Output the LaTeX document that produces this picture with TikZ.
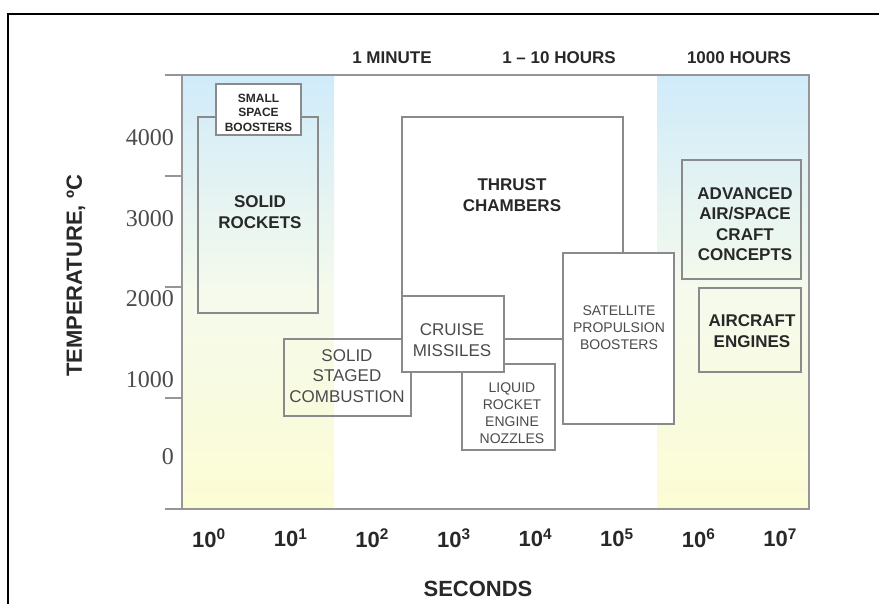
\documentclass[tikz,border=0pt]{standalone}
\usepackage{fontspec}
\setmainfont{Liberation Serif}
\setsansfont{Liberation Sans}
\usepackage{tikz}
\tikzset{>=latex}
\definecolor{boxgray}{RGB}{138,138,138}
\definecolor{axisgray}{RGB}{150,150,150}
\definecolor{inkdark}{RGB}{40,40,40}
\definecolor{inkmid}{RGB}{75,75,75}
\definecolor{skyblue}{RGB}{208,235,250}
\definecolor{paleyellow}{RGB}{252,252,212}
\tikzset{
  region/.style={draw=boxgray, line width=1.3pt},
  timeband/.style={top color=skyblue, bottom color=paleyellow, middle color=skyblue!30!paleyellow!60!white},
  boldlbl/.style={font=\fontsize{17}{20.5}\selectfont\sffamily\bfseries, text=inkdark, align=center, inner sep=0pt},
  thinlbl/.style={font=\fontsize{17}{20.5}\selectfont\sffamily, text=inkmid, align=center, inner sep=0pt},
  smalllbl/.style={font=\fontsize{14}{17}\selectfont\sffamily, text=inkmid, align=center, inner sep=0pt},
  tinylbl/.style={font=\fontsize{12}{14.5}\selectfont\sffamily\bfseries, text=inkdark, align=center, inner sep=0pt},
  ticklbl/.style={font=\fontsize{22}{24}\selectfont\sffamily\bfseries, text=inkdark, inner sep=0pt},
  templbl/.style={font=\fontsize{24}{26}\selectfont, text=inkmid, anchor=east, inner sep=0pt}
}

\begin{document}
\begin{tikzpicture}[x=1pt, y=-1pt]
\useasboundingbox (0,0) rectangle (879,604);

% outer frame
\draw[black, line width=2pt] (8,604) -- (8,14) -- (879,14);

% shaded time bands
\shade[timeband] (182,75) rectangle (334,509);
\shade[timeband] (657,75) rectangle (809,509);

% axes
\draw[axisgray, line width=1.8pt] (165,75) -- (809,75) -- (809,509) -- (165,509);
\draw[axisgray, line width=1.8pt] (182,75) -- (182,509);
\foreach \y in {176, 287, 398}{
    \draw[axisgray, line width=1.5pt] (165,\y) -- (182,\y);
}

% temperature labels
\foreach \t/\y in {4000/138, 3000/219, 2000/299, 1000/380, 0/457}{
    \node[templbl] (temp\t) at (174,\y) {\t};
}

% time labels
\foreach \i in {0,...,7}{
    \node[ticklbl] (sec\i) at (209+81.6*\i, 538) {10\textsuperscript{\i}};
}

\node[ticklbl] (seconds) at (478,589) {SECONDS};
\node[ticklbl, rotate=90] (temperature) at (76,276) {TEMPERATURE, ºC};

\node[boldlbl] (minute) at (392,58) {1 MINUTE};
\node[boldlbl] (hours) at (559,58) {1 -- 10 HOURS};
\node[boldlbl] (khours) at (739,58) {1000 HOURS};

% regions, back to front
\draw[region] (402,117) rectangle (623,339);
\node[boldlbl] (thrust) at (512,195) {THRUST\\CHAMBERS};

\draw[region] (198,117) rectangle (318,313);
\node[boldlbl] (solid) at (260,212) {SOLID\\ROCKETS};

\draw[region, fill=white] (216,84) rectangle (301,135);
\node[tinylbl] (small) at (258.5,112.5) {SMALL\\SPACE\\BOOSTERS};

\draw[region] (284,339) rectangle (411,416);
\node[thinlbl] (staged) at (347,376) {SOLID\\STAGED\\COMBUSTION};

\draw[region, fill=white] (462,364) rectangle (555,450);
\node[smalllbl] (nozzles) at (512,413) {LIQUID\\ROCKET\\ENGINE\\NOZZLES};

\draw[region, fill=white] (402,296) rectangle (504,372);
\node[thinlbl] (cruise) at (452,340) {CRUISE\\MISSILES};

\draw[region, fill=white] (563,253) rectangle (674,424);
\node[smalllbl] (satellite) at (619,328) {SATELLITE\\PROPULSION\\BOOSTERS};

% long life
\draw[region] (682,160) rectangle (801,279);
\node[boldlbl] (advanced) at (745,224) {ADVANCED\\AIR/SPACE\\CRAFT\\CONCEPTS};

\draw[region] (699,288) rectangle (801,372);
\node[boldlbl] (aircraft) at (752,331) {AIRCRAFT\\ENGINES};

\end{tikzpicture}
\end{document}
